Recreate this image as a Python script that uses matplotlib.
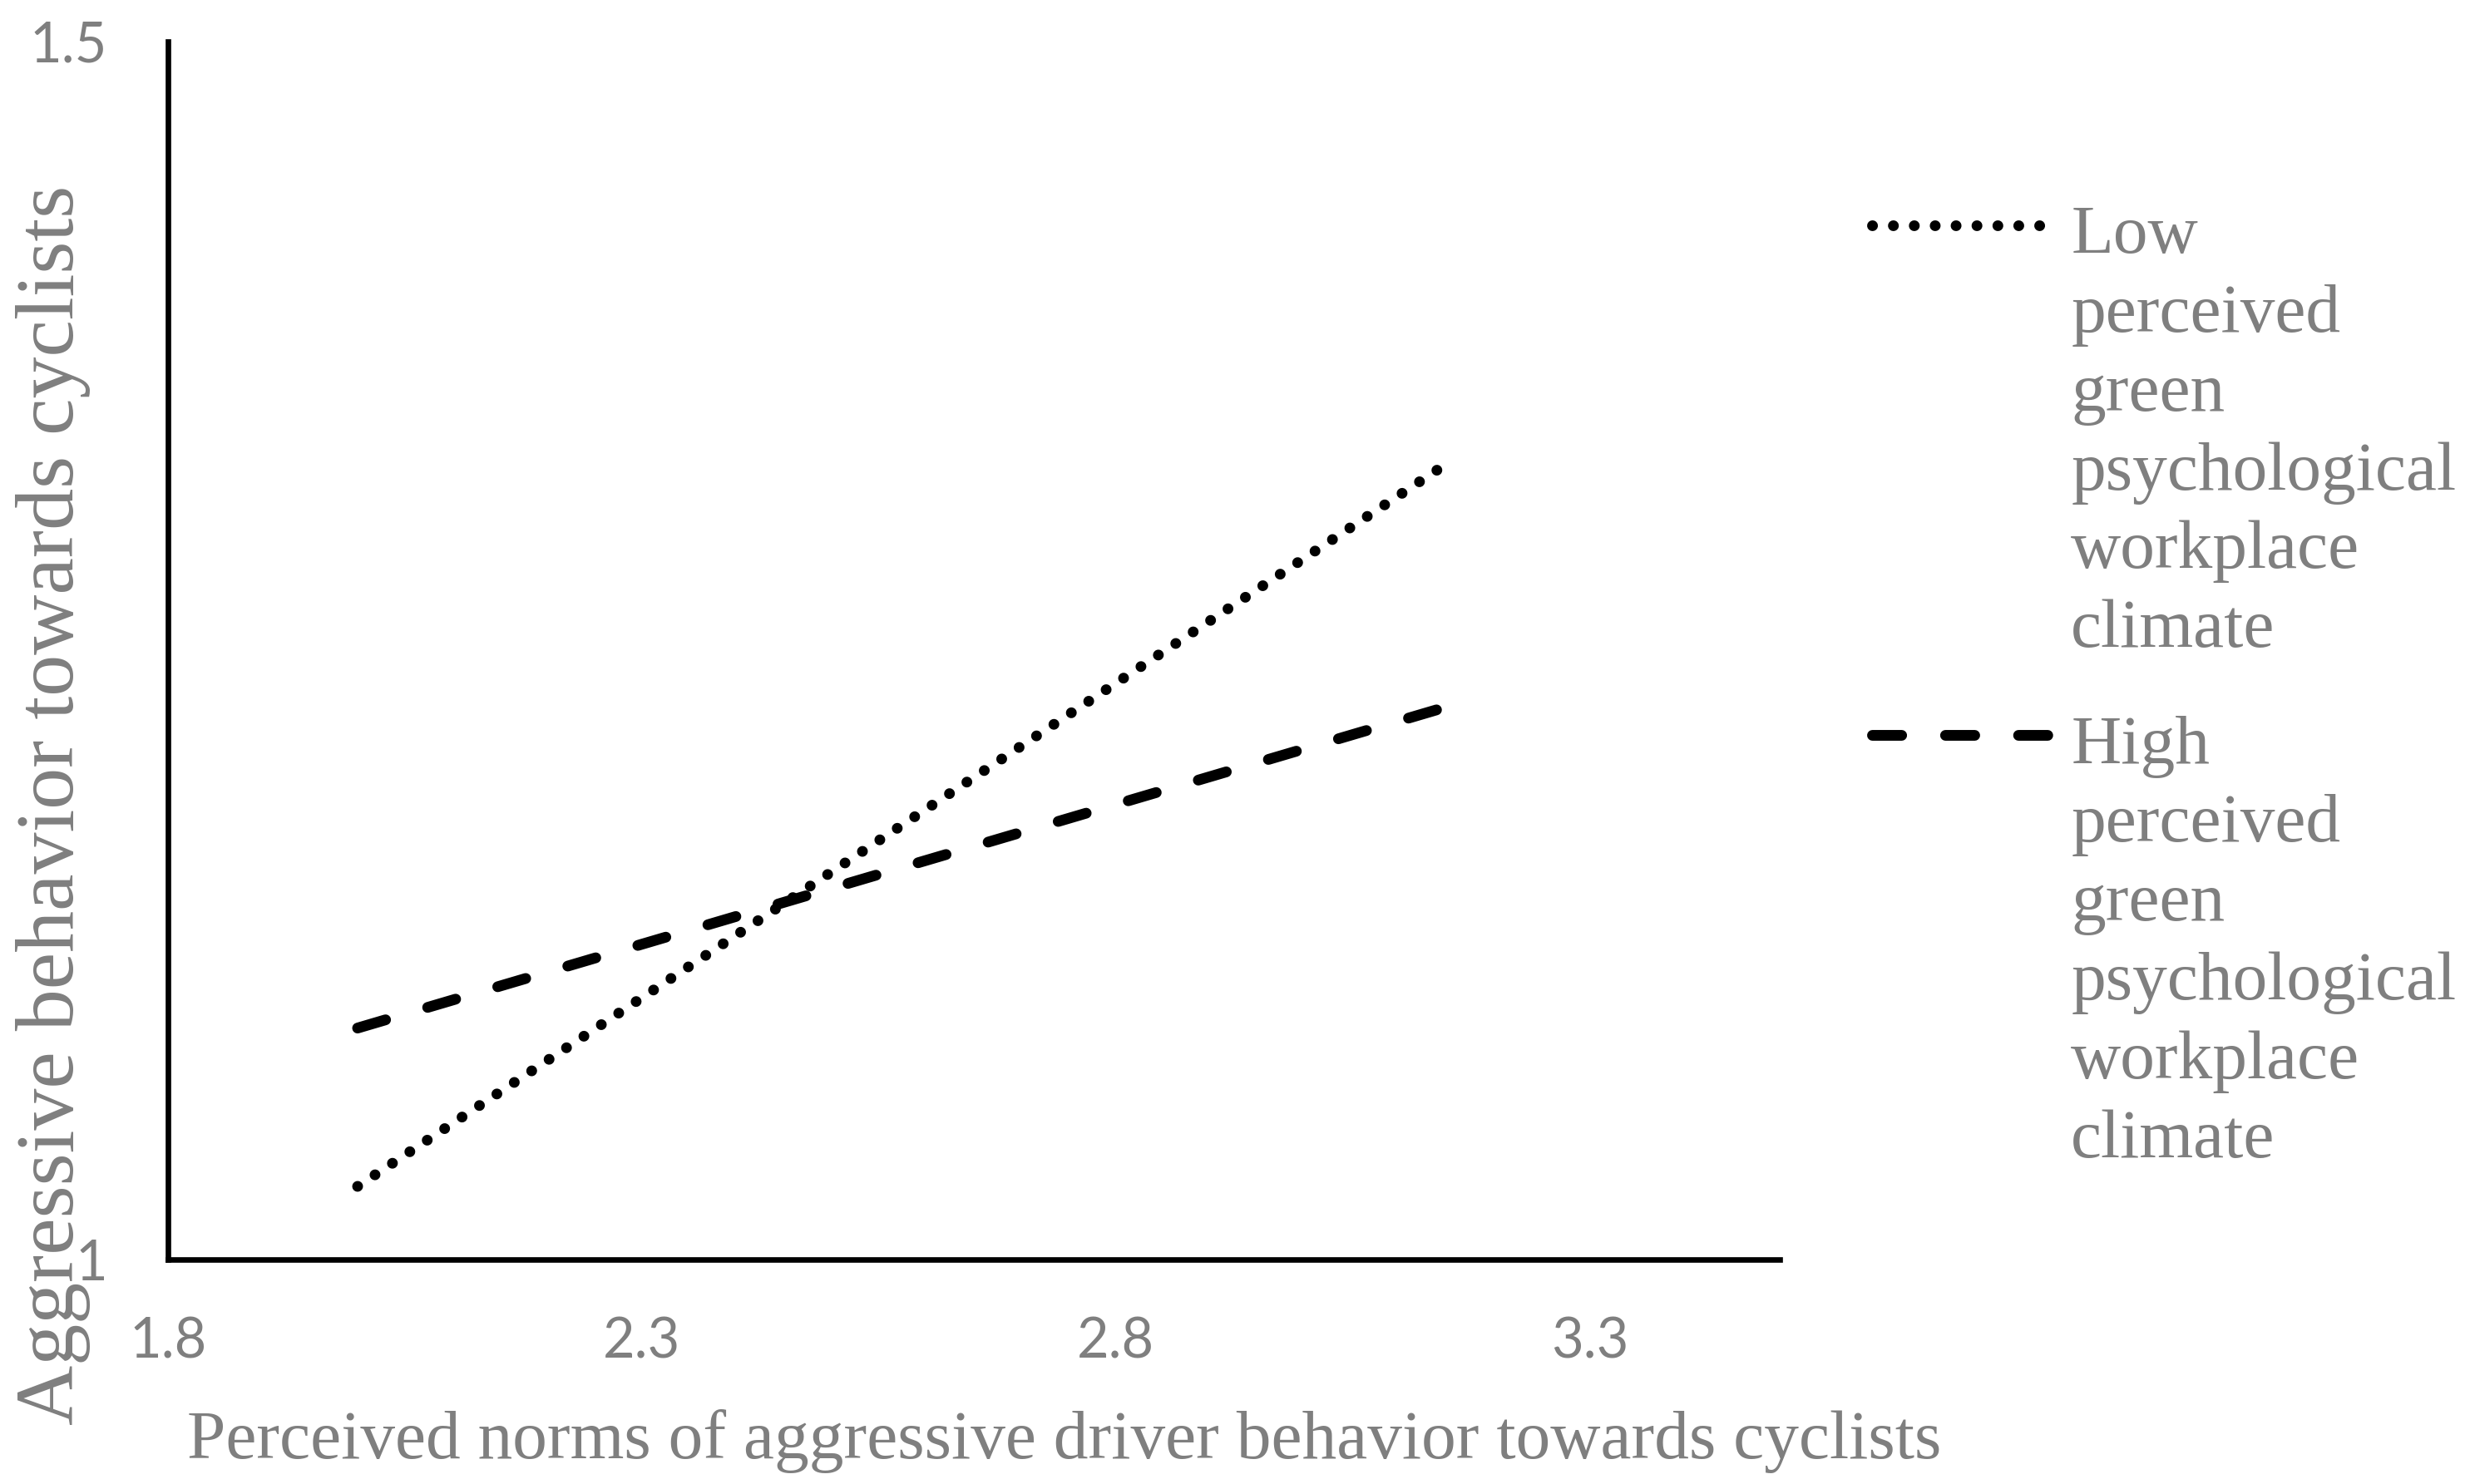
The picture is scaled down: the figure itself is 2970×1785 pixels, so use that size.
import matplotlib
matplotlib.use("Agg")
import matplotlib.pyplot as plt
from matplotlib.lines import Line2D

# simple slopes: low vs high perceived green psychological workplace climate
x_vals = [2.0, 3.15]
low_vals = [1.030, 1.327]
high_vals = [1.095, 1.227]
x_ticks = [1.8, 2.3, 2.8, 3.3]
y_ticks = [1, 1.5]
y_tick_labels = ["1", "1.5"]
series_names = ["Low\nperceived\ngreen\npsychological\nworkplace\nclimate",
                "High\nperceived\ngreen\npsychological\nworkplace\nclimate"]

GREY = "#7f7f7f"
SERIF = ["Liberation Serif", "DejaVu Serif"]
SANS = ["Lato", "DejaVu Sans"]
LW = 3.1
DOT = dict(color="black", lw=LW, linestyle=(0, (0.01, 1.935)),
           dash_capstyle="round", solid_capstyle="round")
DASH = dict(color="black", lw=LW, linestyle=(0, (2.72, 4.08)),
            dash_capstyle="round", solid_capstyle="round")

fig = plt.figure(figsize=(9.9, 5.95), dpi=300)
ax = fig.add_axes([0.068, 0.1513, 0.6525, 0.8207])

ax.plot(x_vals, low_vals, **DOT)
ax.plot(x_vals, high_vals, **DASH)

ax.set_xlim(1.8, 3.5)
ax.set_ylim(1, 1.5)
ax.set_xticks(x_ticks)
ax.set_xticklabels([f"{t:.1f}" for t in x_ticks])
ax.set_yticks(y_ticks)
ax.set_yticklabels(y_tick_labels)
ax.tick_params(axis="both", length=0, labelsize=16, labelcolor=GREY)
ax.tick_params(axis="y", pad=17.5)
ax.tick_params(axis="x", pad=16.5)
for lab in ax.get_xticklabels() + ax.get_yticklabels():
    lab.set_family(SANS)

for side in ["top", "right"]:
    ax.spines[side].set_visible(False)
for side in ["left", "bottom"]:
    ax.spines[side].set_linewidth(1.6)
    ax.spines[side].set_color("black")

fig.text(0.0215, 0.4577, "Aggressive behavior towards cyclists", rotation=90,
         ha="center", va="center", fontsize=24, color=GREY, family=SERIF)
fig.text(0.431, 0.0174, "Perceived norms of aggressive driver behavior towards cyclists",
         ha="center", va="baseline", fontsize=20, color=GREY, family=SERIF)

# legend drawn by hand so the key sits on the first text line
# (multi-line text with va="baseline" anchors on its last line)
leg_x0, leg_x1, txt_x = 0.758, 0.8315, 0.8385
for style, key_y, last_base_y, name in [(DOT, 0.848, 0.564, series_names[0]),
                                        (DASH, 0.5048, 0.2202, series_names[1])]:
    fig.add_artist(Line2D([leg_x0, leg_x1], [key_y, key_y],
                          transform=fig.transFigure, **style))
    fig.text(txt_x, last_base_y, name, ha="left", va="baseline", fontsize=20,
             color=GREY, family=SERIF, linespacing=1.337)

fig.savefig("out.png", dpi=300)
plt.close(fig)
